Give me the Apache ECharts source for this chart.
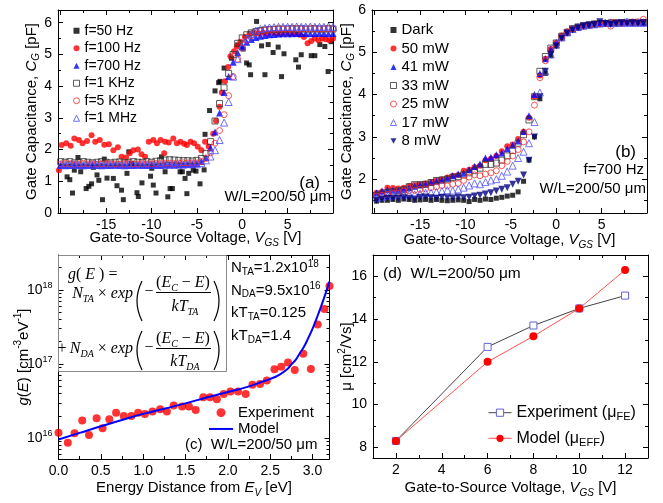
<!DOCTYPE html>
<html><head><meta charset="utf-8">
<script src="https://cdn.jsdelivr.net/npm/echarts@6.0.0/dist/echarts.min.js"></script>
<style>html,body{margin:0;padding:0;background:#fff}#c{width:663px;height:503px}</style>
</head><body><div id="c"></div>
<script>
// ---------- Panel (a): C-V at different frequencies ----------
const vgsA = [-20,-19.5,-19,-18.5,-18,-17.5,-17,-16.5,-16,-15.5,-15,-14.5,-14,-13.5,-13,-12.5,-12,-11.5,-11,-10.5,-10,-9.5,-9,-8.5,-8,-7.5,-7,-6.5,-6,-5.5,-5,-4.5,-4,-3.5,-3,-2.5,-2,-1.5,-1,-0.5,0,0.5,1,1.5,2,2.5,3,3.5,4,4.5,5,5.5,6,6.5,7,7.5,8,8.5,9,9.5,10];
const c700 = [1.50,1.49,1.50,1.51,1.50,1.49,1.50,1.51,1.50,1.49,1.50,1.50,1.51,1.50,1.49,1.50,1.50,1.51,1.50,1.50,1.51,1.50,1.50,1.51,1.51,1.51,1.52,1.52,1.53,1.54,1.56,1.62,1.75,2.05,2.55,3.15,3.80,4.30,4.75,5.05,5.25,5.38,5.47,5.53,5.57,5.60,5.62,5.63,5.64,5.65,5.65,5.65,5.66,5.66,5.66,5.65,5.66,5.66,5.66,5.65,5.66];
const c1k = [1.62,1.60,1.62,1.58,1.60,1.62,1.60,1.58,1.60,1.62,1.60,1.58,1.60,1.61,1.58,1.60,1.62,1.60,1.60,1.62,1.60,1.63,1.65,1.67,1.68,1.67,1.66,1.65,1.65,1.64,1.66,1.72,1.88,2.25,2.90,3.45,3.95,4.40,5.00,5.35,5.52,5.62,5.68,5.72,5.75,5.77,5.78,5.79,5.80,5.80,5.80,5.81,5.80,5.81,5.80,5.80,5.81,5.80,5.80,5.81,5.80];
const c5k = [1.55,1.56,1.55,1.54,1.55,1.56,1.55,1.55,1.54,1.55,1.56,1.55,1.55,1.54,1.55,1.56,1.55,1.55,1.56,1.55,1.55,1.56,1.56,1.57,1.57,1.56,1.57,1.58,1.58,1.58,1.58,1.62,1.72,1.90,2.20,2.60,3.10,3.70,4.30,4.85,5.20,5.45,5.60,5.68,5.73,5.76,5.78,5.79,5.80,5.80,5.80,5.80,5.81,5.80,5.80,5.81,5.80,5.80,5.80,5.81,5.80];
const c1M = [1.52,1.52,1.53,1.52,1.52,1.51,1.52,1.52,1.53,1.52,1.52,1.52,1.51,1.52,1.52,1.53,1.52,1.52,1.52,1.52,1.53,1.52,1.52,1.53,1.53,1.53,1.53,1.53,1.54,1.54,1.54,1.58,1.66,1.78,1.98,2.30,2.85,3.50,4.30,4.85,5.25,5.50,5.65,5.75,5.80,5.83,5.85,5.86,5.87,5.87,5.87,5.87,5.88,5.87,5.87,5.88,5.87,5.87,5.87,5.88,5.87];
const vgs50 = [-19.3,-19.0,-18.7,-18.5,-18.1,-17.8,-17.2,-16.9,-16.6,-16.4,-16.0,-15.8,-15.4,-15.2,-14.9,-14.2,-13.8,-13.3,-13.1,-12.7,-12.5,-12.2,-11.6,-11.45,-11.05,-10.1,-9.97,-9.8,-9.5,-8.9,-8.5,-8.2,-7.95,-7.7,-6.85,-6.6,-6.3,-6.1,-5.9,-5.4,-5.1,-4.65,-4.2,-4.1,-3.6,-3.0,-2.6,-2.45,-2.0,-1.2,-0.5,0.1,0.48,0.77,0.92,1.58,2.13,2.5,2.86,3.4,3.96,4.33,4.6,5.9,6.2,6.5,7.6,8.0,8.55,9.1,9.46,9.8];
const c50 = [1.14,1.05,0.63,1.35,1.75,1.3,0.77,0.84,0.92,1.44,1.2,1.03,0.42,1.7,1.1,1.09,0.86,0.72,0.42,1.25,1.93,1.56,0.64,0.52,0.95,1.16,1.41,0.88,0.63,1.77,1.3,0.51,0.77,0.77,1.3,1.3,1.09,0.61,1.25,1.35,1.32,0.92,1.36,2.48,3.23,3.85,4.11,4.15,4.57,4.88,5.3,5.17,4.73,4.67,4.36,6.04,5.27,4.36,5.31,5.06,5.23,4.3,5.02,4.83,4.6,4.99,4.96,4.96,5.31,5.25,4.46,5.4];
const vgs100 = [-20.2,-19.9,-19.4,-18.9,-18.5,-18.0,-17.6,-17.1,-16.6,-16.2,-15.7,-15.2,-14.7,-14.2,-13.7,-13.3,-12.8,-12.4,-12.0,-11.5,-11.1,-10.7,-10.3,-9.8,-9.4,-9.0,-8.6,-8.5,-8.1,-7.6,-7.2,-6.8,-6.4,-6.1,-5.7,-5.3,-4.9,-4.5,-4.1,-3.7,-3.2,-2.9,-2.5,-2.25,-1.9,-1.55,-1.3,-0.9,-0.6,-0.2,0.3,0.8,1.3,1.8,2.3,2.8,3.3,3.8,4.3,4.8,5.3,5.8,6.3,6.8,7.2,7.6,8.0,8.4,8.8,9.2,9.6,10.0];
const c100 = [1.35,2.14,2.2,2.12,2.35,2.3,2.2,2.27,2.45,2.25,2.3,2.15,2.17,1.98,2.07,1.77,1.75,1.88,1.98,2.0,1.85,1.77,2.25,2.3,2.2,2.3,1.88,2.25,2.22,2.35,2.2,2.25,2.18,2.14,2.25,2.2,2.09,1.98,2.25,2.1,2.5,2.91,3.35,3.8,4.15,4.6,4.94,5.1,5.25,5.4,5.55,5.65,5.68,5.66,5.68,5.66,5.68,5.67,5.66,5.68,5.65,5.64,5.62,5.55,5.35,5.42,5.5,5.45,5.5,5.48,5.45,5.5];

// ---------- Panel (b): C-V under illumination ----------
const vgsB = [-19.8,-19.2,-18.6,-18.0,-17.4,-16.8,-16.2,-15.6,-15.0,-14.4,-13.8,-13.2,-12.6,-12.0,-11.4,-10.8,-10.2,-9.6,-9.0,-8.4,-7.8,-7.2,-6.6,-6.0,-5.4,-4.8,-4.2,-3.6,-3.0,-2.4,-1.8,-1.2,-0.6,0.0,0.6,1.2,1.8,2.4,3.0,3.6,4.2,4.8,5.4,6.0,6.6,7.2,7.8,8.4,9.0,9.6];
const cDark = [1.48,1.50,1.50,1.52,1.50,1.53,1.52,1.50,1.51,1.52,1.50,1.52,1.50,1.49,1.50,1.51,1.50,1.47,1.52,1.50,1.53,1.52,1.55,1.57,1.60,1.62,1.70,1.95,2.45,3.00,3.90,4.50,4.92,5.15,5.33,5.45,5.53,5.58,5.62,5.64,5.66,5.68,5.68,5.66,5.68,5.70,5.68,5.70,5.68,5.70];
const c50mW = [1.68,1.70,1.80,1.79,1.78,1.80,1.84,1.86,1.88,1.90,1.93,1.97,2.00,2.04,2.08,2.10,2.20,2.22,2.28,2.32,2.45,2.48,2.55,2.66,2.78,2.82,2.95,3.12,3.45,3.95,4.45,4.85,5.08,5.22,5.40,5.50,5.56,5.60,5.64,5.66,5.68,5.69,5.70,5.72,5.71,5.70,5.69,5.70,5.71,5.72];
const c41mW = [1.67,1.72,1.75,1.74,1.74,1.77,1.80,1.83,1.86,1.88,1.92,1.95,1.98,2.02,2.08,2.12,2.14,2.22,2.30,2.36,2.50,2.52,2.58,2.62,2.72,2.80,2.90,3.13,3.50,4.00,4.50,4.85,5.08,5.24,5.38,5.48,5.55,5.60,5.63,5.65,5.67,5.68,5.69,5.68,5.69,5.70,5.69,5.70,5.69,5.70];
const c33mW = [1.62,1.65,1.68,1.70,1.72,1.75,1.82,1.87,1.87,1.88,1.92,1.97,1.98,2.00,2.04,2.06,2.10,2.15,2.20,2.26,2.35,2.35,2.38,2.45,2.55,2.68,2.85,3.05,3.40,3.95,4.55,4.90,5.10,5.22,5.38,5.47,5.56,5.60,5.63,5.65,5.67,5.68,5.68,5.69,5.70,5.70,5.71,5.70,5.71,5.70];
const c25mW = [1.60,1.62,1.64,1.66,1.67,1.72,1.73,1.74,1.76,1.77,1.80,1.82,1.85,1.84,1.88,1.90,1.97,2.05,2.10,2.08,2.12,2.15,2.20,2.32,2.42,2.55,2.70,2.88,3.12,3.75,4.40,4.80,5.05,5.20,5.35,5.47,5.55,5.58,5.62,5.64,5.66,5.67,5.68,5.62,5.70,5.68,5.70,5.72,5.70,5.78];
const c17mW = [1.56,1.58,1.60,1.62,1.63,1.64,1.65,1.64,1.66,1.68,1.68,1.70,1.72,1.74,1.73,1.76,1.80,1.85,1.90,1.88,1.93,1.97,2.00,2.08,2.18,2.32,2.50,2.65,2.85,3.35,4.05,4.55,4.95,5.18,5.35,5.47,5.55,5.60,5.63,5.65,5.66,5.68,5.70,5.70,5.69,5.70,5.72,5.70,5.71,5.70];
const c8mW = [1.50,1.53,1.55,1.54,1.55,1.56,1.55,1.53,1.57,1.58,1.56,1.55,1.57,1.56,1.55,1.58,1.56,1.57,1.60,1.62,1.65,1.68,1.72,1.76,1.80,1.88,1.95,2.10,2.45,3.00,3.95,4.55,4.95,5.15,5.33,5.45,5.53,5.58,5.62,5.64,5.66,5.72,5.68,5.66,5.68,5.70,5.68,5.70,5.68,5.70];

// ---------- Panel (c): density of states ----------
const energy = [0.0,0.11,0.19,0.28,0.36,0.45,0.52,0.60,0.68,0.77,0.86,0.94,1.02,1.11,1.20,1.28,1.36,1.46,1.54,1.62,1.71,1.79,1.87,1.95,2.03,2.12,2.21,2.29,2.38,2.46,2.55,2.63,2.71,2.79,2.89,2.98,3.06,3.14,3.20];
const gExp = [1.19e16,8.7e15,1.17e16,1.73e16,1.11e16,1.86e16,1.36e16,1.8e16,2.2e16,2.0e16,2.0e16,2.2e16,2.13e16,2.29e16,2.46e16,2.29e16,2.76e16,2.68e16,2.68e16,2.4e16,3.56e16,3.56e16,3.35e16,3.96e16,4.26e16,4.26e16,3.96e16,5.24e16,5.4e16,6.0e16,8.5e16,9.2e16,1.05e17,8.3e16,1.38e17,8.6e16,3.4e17,5.5e17,1.13e18];
const eModel = [0,0.25,0.5,0.75,1.0,1.25,1.5,1.75,2.0,2.25,2.4,2.5,2.6,2.7,2.75,2.8,2.85,2.9,2.95,3.0,3.05,3.1,3.15,3.2];
const gModel = [9.6e15,1.18e16,1.45e16,1.76e16,2.13e16,2.5e16,2.95e16,3.55e16,4.2e16,5.0e16,5.75e16,6.3e16,7.1e16,8.5e16,9.9e16,1.14e17,1.4e17,1.72e17,2.25e17,3.0e17,4.2e17,5.95e17,8.7e17,1.29e18];

// ---------- Panel (d): mobility ----------
const vgsD = [2,6,8,10,12];
const muFE = [8.3,12.7,13.7,14.5,15.1];
const muEFF = [8.3,12.0,13.2,14.5,16.3];

// ---------- Tick labels ----------
const ticksVgs = [-20,-15,-10,-5,0,5,10];
const labelsVgs = [-15,-10,-5,0,5];
const minorVgs = [-17.5,-12.5,-7.5,-2.5,2.5,7.5];
const ticksCa = [0,1,2,3,4,5,6];
const minorCa = [0.5,1.5,2.5,3.5,4.5,5.5];
const ticksCb = [2,3,4,5,6];
const minorCb = [1.5,2.5,3.5,4.5,5.5];
const ticksE = [0,0.5,1,1.5,2,2.5,3];
const minorE = [0.25,0.75,1.25,1.75,2.25,2.75];
const ticksG = [1e16,1e17,1e18];
const minorG = [6e15,7e15,8e15,9e15,2e16,3e16,4e16,5e16,6e16,7e16,8e16,9e16,2e17,3e17,4e17,5e17,6e17,7e17,8e17,9e17,2e18];
const ticksVd = [2,4,6,8,10,12];
const minorVd = [3,5,7,9,11];
const ticksMu = [8,10,12,14,16];
const minorMu = [9,11,13,15];

// ================= build =================
const FONT = '"Liberation Sans", Arial, Helvetica, sans-serif';
const SERIF = '"Liberation Serif", "Times New Roman", serif';
const zip = (xs, ys) => xs.map((x, i) => [x, ys[i]]);
const DOWN = 'path://M0,0 L10,0 L5,9 Z';

function rich(size, lh) {
  lh = lh || 20;
  const sub = Math.round(size * 0.67);
  return {
    t: {fontSize: size, fontFamily: FONT, color: '#000', lineHeight: lh},
    i: {fontSize: size, fontFamily: FONT, fontStyle: 'italic', color: '#000', lineHeight: lh},
    s: {fontSize: sub, fontFamily: FONT, fontStyle: 'italic', color: '#000', verticalAlign: 'bottom', lineHeight: sub},
    u: {fontSize: sub, fontFamily: FONT, color: '#000', verticalAlign: 'bottom', lineHeight: sub},
    p: {fontSize: sub, fontFamily: FONT, color: '#000', verticalAlign: 'top', lineHeight: sub}
  };
}

const xAxes = [], yAxes = [];
function mk(dim, gi, pos, R, ticks, len, lineShow, extra) {
  const ax = {
    gridIndex: gi, type: R.type || 'value', position: pos, min: R.min, max: R.max, silent: true,
    axisLine: {show: lineShow, onZero: false, lineStyle: {color: '#000', width: 1}},
    axisTick: {show: true, inside: true, length: len, customValues: ticks, lineStyle: {color: '#000', width: 1}},
    axisLabel: {show: false},
    axisPointer: {show: false},
    splitLine: {show: false}, minorTick: {show: false}, minorSplitLine: {show: false}
  };
  if (R.type === 'log') ax.logBase = 10;
  if (extra) Object.assign(ax, extra);
  const arr = dim === 'x' ? xAxes : yAxes;
  arr.push(ax);
  return arr.length - 1;
}
function frame(gi, X, Y) {
  const xi = mk('x', gi, 'bottom', X, X.major, 5, true, {
    axisLabel: {show: true, customValues: X.labels, formatter: X.fmt, margin: 5, fontSize: 14, fontFamily: FONT, color: '#000'},
    name: X.name, nameLocation: 'middle', nameGap: X.gap, nameMoveOverlap: false,
    nameTextStyle: {fontSize: 15, fontFamily: FONT, color: '#000', lineHeight: 20, rich: rich(15)}
  });
  mk('x', gi, 'bottom', X, X.minor, 3, false);
  mk('x', gi, 'top', X, X.major, 5, true);
  mk('x', gi, 'top', X, X.minor, 3, false);
  const yi = mk('y', gi, 'left', Y, Y.major, 5, true, {
    axisLabel: {show: true, customValues: Y.labels, formatter: Y.fmt, margin: 6, fontSize: 14, fontFamily: FONT, color: '#000', lineHeight: 18, rich: rich(14, 18)},
    name: Y.name, nameLocation: 'middle', nameGap: Y.gap, nameMoveOverlap: false,
    nameTextStyle: {fontSize: 15, fontFamily: FONT, color: '#000', lineHeight: 20, rich: rich(15)}
  });
  mk('y', gi, 'left', Y, Y.minor, 3, false);
  mk('y', gi, 'right', Y, Y.major, 5, true);
  mk('y', gi, 'right', Y, Y.minor, 3, false);
  return {x: xi, y: yi};
}
const num = v => String(v);
const vgsName = '{t|Gate-to-Source Voltage, }{i|V}{s|GS}{t| [V]}';
const capName = '{t|Gate Capacitance, }{i|C}{s|G}{t| [pF]}';

const A = frame(0, {min: -20.3, max: 10, major: ticksVgs, minor: minorVgs, labels: labelsVgs, fmt: num, name: vgsName, gap: 15},
                   {min: 0, max: 6.4, major: ticksCa, minor: minorCa, labels: ticksCa, fmt: num, name: capName, gap: 16.3});
const B = frame(1, {min: -20.3, max: 10, major: ticksVgs, minor: minorVgs, labels: labelsVgs, fmt: num, name: vgsName, gap: 17},
                   {min: 1.2, max: 6, major: ticksCb, minor: minorCb, labels: ticksCb, fmt: num, name: capName, gap: 15.3});
const C = frame(2, {min: 0, max: 3.2, major: ticksE, minor: minorE, labels: ticksE, fmt: v => v.toFixed(1),
                    name: '{t|Energy Distance from }{i|E}{s|V}{t| [eV]}', gap: 19.3},
                   {type: 'log', min: 5.25e15, max: 2.95e18, major: ticksG, minor: minorG, labels: ticksG,
                    fmt: v => '{t|10}{p|' + Math.round(Math.log10(v)) + '}',
                    name: '{i|g}{t|(}{i|E}{t|) [cm}{p|-3}{t|eV}{p|-1}{t|]}', gap: 25});
const D = frame(3, {min: 1, max: 13, major: ticksVd, minor: minorVd, labels: ticksVd, fmt: num, name: vgsName, gap: 20.3},
                   {min: 7.5, max: 17, major: ticksMu, minor: minorMu, labels: ticksMu, fmt: num,
                    name: '{t|μ [cm}{p|2}{t|/Vs]}', gap: 16});

const OPEN = 'rgba(255,255,255,0)';
function sc(name, ax, data, symbol, size, fill, border, extra) {
  const s = {name, type: 'scatter', xAxisIndex: ax.x, yAxisIndex: ax.y, data, symbol, symbolSize: size,
    itemStyle: border ? {color: OPEN, borderColor: border, borderWidth: 1} : {color: fill},
    emphasis: {disabled: true}, silent: true};
  if (extra) Object.assign(s, extra);
  return s;
}

const series = [
  sc('f=50 Hz', A, zip(vgs50, c50), 'rect', 5, '#000'),
  sc('f=100 Hz', A, zip(vgs100, c100), 'circle', 6, '#f00'),
  sc('f=700 Hz', A, zip(vgsA, c700), 'triangle', 7, '#0000ff'),
  sc('f=1 KHz', A, zip(vgsA, c1k), 'rect', 6, null, '#333'),
  sc('f=5 KHz', A, zip(vgsA, c5k), 'circle', 6, null, '#ff2a2a'),
  sc('f=1 MHz', A, zip(vgsA, c1M), 'triangle', 7, null, '#4848ff'),

  sc('Dark', B, zip(vgsB, cDark), 'rect', 5, '#000'),
  sc('50 mW', B, zip(vgsB, c50mW), 'circle', 6, '#f00'),
  sc('41 mW', B, zip(vgsB, c41mW), 'triangle', 7, '#0000ff'),
  sc('33 mW', B, zip(vgsB, c33mW), 'rect', 6, null, '#333'),
  sc('25 mW', B, zip(vgsB, c25mW), 'circle', 6, null, '#ff2a2a'),
  sc('17 mW', B, zip(vgsB, c17mW), 'triangle', 7, null, '#5050ff'),
  sc('8 mW', B, zip(vgsB, c8mW), DOWN, 7, '#000080'),

  sc('Experiment', C, zip(energy, gExp), 'circle', 8, '#f00', null, {symbolKeepAspect: true, clip: false}),
  {name: 'Model', type: 'line', xAxisIndex: C.x, yAxisIndex: C.y, data: zip(eModel, gModel), smooth: true,
   symbol: 'none', lineStyle: {color: '#0000ff', width: 2}, itemStyle: {color: '#0000ff'}, silent: true},

  {name: 'ExpFE', type: 'line', xAxisIndex: D.x, yAxisIndex: D.y, data: zip(vgsD, muFE), symbol: 'rect', symbolSize: 7,
   itemStyle: {color: '#fff', borderColor: '#6262d8', borderWidth: 1}, lineStyle: {color: '#444', width: 1}, silent: true},
  {name: 'ModelEFF', type: 'line', xAxisIndex: D.x, yAxisIndex: D.y, data: zip(vgsD, muEFF), symbol: 'circle', symbolSize: 8,
   itemStyle: {color: '#f00'}, lineStyle: {color: '#ff5050', width: 1}, silent: true}
];

function legend(left, top, data, o) {
  return Object.assign({
    show: true, orient: 'vertical', left, top, padding: 0, itemGap: 0, selectedMode: false,
    itemWidth: 6, itemHeight: 6, data,
    itemStyle: {borderWidth: 1},
    textStyle: {fontSize: 14, fontFamily: FONT, color: '#000', lineHeight: 17.5}
  }, o || {});
}
const legends = [
  legend(73, 22, ['f=50 Hz','f=100 Hz','f=700 Hz','f=1 KHz','f=5 KHz','f=1 MHz']),
  legend(390, 20.75, ['Dark','50 mW','41 mW','33 mW','25 mW','17 mW','8 mW'],
    {textStyle: {fontSize: 15, fontFamily: FONT, color: '#000', lineHeight: 18.5}}),
  legend(208, 404.5, ['Experiment', {name: 'Model', itemStyle: {color: 'rgba(0,0,0,0)', opacity: 0}}],
    {itemWidth: 24, itemHeight: 9, lineStyle: {width: 2},
     textStyle: {fontSize: 15, fontFamily: FONT, color: '#000', lineHeight: 16.3}}),
  legend(488, 402.7, ['ExpFE','ModelEFF'], {itemWidth: 23, itemHeight: 9, itemGap: 5.6, lineStyle: {width: 1},
    formatter: n => n === 'ExpFE' ? 'Experiment (μ{u|FE})' : 'Model (μ{u|EFF})',
    textStyle: {fontSize: 16, fontFamily: FONT, color: '#000', lineHeight: 20, rich: rich(16)}})
];

// ---------- annotations ----------
function T(x, y, text, o) {
  o = o || {};
  const al = o.align || 'left';
  return {type: 'text', x, y, silent: true, z: 100, style: Object.assign({
    text, fill: '#000', fontSize: o.size || 15, fontFamily: o.family || FONT,
    align: al, textAlign: al, verticalAlign: 'middle', textVerticalAlign: 'middle'
  }, o.style || {})};
}
const F = {
  i: {fontFamily: SERIF, fontStyle: 'italic', fontSize: 16, lineHeight: 20, color: '#000'},
  n: {fontFamily: SERIF, fontSize: 16, lineHeight: 20, color: '#000'},
  s: {fontFamily: SERIF, fontStyle: 'italic', fontSize: 10, lineHeight: 10, verticalAlign: 'bottom', color: '#000'}
};
const P = rich(15, 18);
function paren(x, y1, y2, dir) {
  return {type: 'bezierCurve', silent: true, z: 100,
    shape: {x1: x, y1: y1, x2: x, y2: y2, cpx1: x - dir * 10, cpy1: (y1 + y2) / 2},
    style: {stroke: '#000', lineWidth: 1.2, fill: null}};
}
function bar(x1, x2, y) {
  return {type: 'line', silent: true, z: 100, shape: {x1, y1: y, x2, y2: y}, style: {stroke: '#000', lineWidth: 1}};
}
const fs = {family: SERIF, size: 16, style: {rich: F, lineHeight: 20}};
const graphics = [
  T(320, 183, '(a)', {align: 'right', size: 17}),
  T(331, 197, 'W/L=200/50 μm', {align: 'right', size: 15}),
  T(636, 152, '(b)', {align: 'right', size: 17}),
  T(644, 170, 'f=700 Hz', {align: 'right', size: 15}),
  T(646, 188.5, 'W/L=200/50 μm', {align: 'right', size: 15}),
  T(185, 444.5, '(c)  W/L=200/50 μm', {size: 15}),
  T(383, 274, '(d)  W/L=200/50 μm', {size: 15.5}),
  // formula box
  {type: 'rect', silent: true, z: 99, shape: {x: 58.5, y: 255.5, width: 168, height: 116},
   style: {fill: null, stroke: '#8a8a8a', lineWidth: 1}},
  T(68, 275, '{i|g}{n|( }{i|E}{n| ) =}', fs),
  T(133, 294, '{i|N}{s|TA}{n| × }{i|exp}', Object.assign({align: 'right'}, fs)),
  paren(142, 281, 321, 1),
  T(149, 292, '{n|−}', Object.assign({align: 'center'}, fs)),
  T(183, 283, '{n|(}{i|E}{s|C}{n| − }{i|E}{n|)}', Object.assign({align: 'center'}, fs)),
  bar(156, 211, 292.5),
  T(185, 307, '{i|kT}{s|TA}', Object.assign({align: 'center'}, fs)),
  paren(214, 281, 321, -1),
  T(62, 349, '{n|+}', Object.assign({align: 'center'}, fs)),
  T(133, 349, '{i|N}{s|DA}{n| × }{i|exp}', Object.assign({align: 'right'}, fs)),
  paren(142, 331, 370, 1),
  T(149, 348, '{n|−}', Object.assign({align: 'center'}, fs)),
  T(183, 339, '{n|(}{i|E}{s|C}{n| − }{i|E}{n|)}', Object.assign({align: 'center'}, fs)),
  bar(156, 211, 348.5),
  T(185, 362, '{i|kT}{s|DA}', Object.assign({align: 'center'}, fs)),
  paren(214, 331, 370, -1),
  // parameters
  T(231, 268, '{t|N}{u|TA}{t|=1.2x10}{p|18}', {style: {rich: P, lineHeight: 18}}),
  T(231, 290.5, '{t|N}{u|DA}{t|=9.5x10}{p|16}', {style: {rich: P, lineHeight: 18}}),
  T(231, 313, '{t|kT}{u|TA}{t|=0.125}', {style: {rich: P, lineHeight: 18}}),
  T(231, 336, '{t|kT}{u|DA}{t|=1.4}', {style: {rich: P, lineHeight: 18}})
];

const chart = echarts.init(document.getElementById('c'), null, {renderer: 'canvas'});
chart.setOption({
  animation: false,
  backgroundColor: '#fff',
  textStyle: {fontFamily: FONT},
  tooltip: {show: false},
  grid: [
    {left: 58, top: 10, width: 275, height: 203, outerBoundsMode: 'none', containLabel: false},
    {left: 372, top: 10, width: 275, height: 203, outerBoundsMode: 'none', containLabel: false},
    {left: 58.5, top: 255, width: 271, height: 204, outerBoundsMode: 'none', containLabel: false},
    {left: 373, top: 255, width: 275, height: 203, outerBoundsMode: 'none', containLabel: false}
  ],
  xAxis: xAxes,
  yAxis: yAxes,
  legend: legends,
  series,
  graphic: graphics
});
</script></body></html>
